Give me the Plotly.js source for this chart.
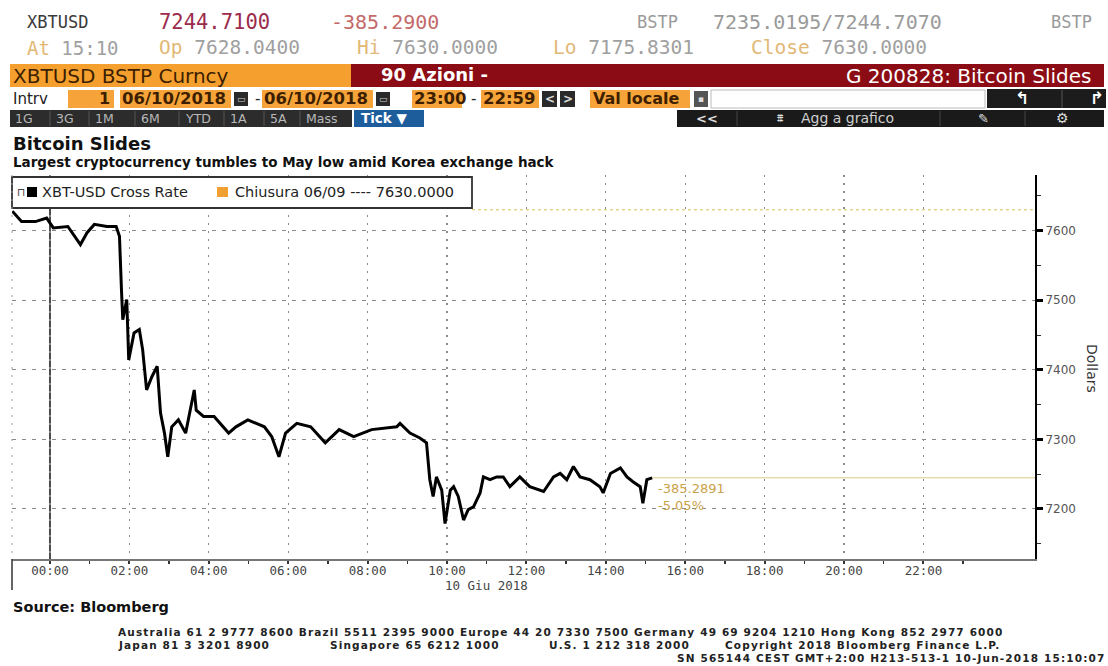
<!DOCTYPE html>
<html><head><meta charset="utf-8">
<script src="https://cdn.plot.ly/plotly-3.0.1.min.js"></script>
<style>html,body{margin:0;padding:0;background:#fff;}#chart{width:1108px;height:666px;}</style>
</head><body><div id="chart"></div>
<script>
// ---- data ----
const times = [
 '2018-06-09 23:03','2018-06-09 23:17','2018-06-09 23:38','2018-06-09 23:55',
 '2018-06-10 00:05','2018-06-10 00:27','2018-06-10 00:46','2018-06-10 00:56',
 '2018-06-10 01:07','2018-06-10 01:26','2018-06-10 01:40','2018-06-10 01:45',
 '2018-06-10 01:48','2018-06-10 01:50','2018-06-10 01:56','2018-06-10 01:59',
 '2018-06-10 02:07','2018-06-10 02:15','2018-06-10 02:20','2018-06-10 02:26',
 '2018-06-10 02:34','2018-06-10 02:42','2018-06-10 02:47','2018-06-10 02:53',
 '2018-06-10 02:58','2018-06-10 03:04','2018-06-10 03:14','2018-06-10 03:25',
 '2018-06-10 03:38','2018-06-10 03:41','2018-06-10 03:52','2018-06-10 04:08',
 '2018-06-10 04:30','2018-06-10 04:41','2018-06-10 04:59','2018-06-10 05:24',
 '2018-06-10 05:35','2018-06-10 05:46','2018-06-10 05:56','2018-06-10 06:13',
 '2018-06-10 06:34','2018-06-10 06:56','2018-06-10 07:17','2018-06-10 07:39',
 '2018-06-10 08:06','2018-06-10 08:44','2018-06-10 08:49','2018-06-10 09:04',
 '2018-06-10 09:19','2018-06-10 09:29','2018-06-10 09:34','2018-06-10 09:39',
 '2018-06-10 09:44','2018-06-10 09:52','2018-06-10 09:57','2018-06-10 10:05',
 '2018-06-10 10:10','2018-06-10 10:17','2018-06-10 10:25','2018-06-10 10:32',
 '2018-06-10 10:40','2018-06-10 10:50','2018-06-10 10:55','2018-06-10 11:05',
 '2018-06-10 11:15','2018-06-10 11:25','2018-06-10 11:35','2018-06-10 11:50',
 '2018-06-10 12:05','2018-06-10 12:26','2018-06-10 12:41','2018-06-10 12:51',
 '2018-06-10 13:01','2018-06-10 13:11','2018-06-10 13:21','2018-06-10 13:36',
 '2018-06-10 13:51','2018-06-10 13:56','2018-06-10 14:07','2018-06-10 14:22',
 '2018-06-10 14:32','2018-06-10 14:41','2018-06-10 14:52','2018-06-10 14:56',
 '2018-06-10 15:02','2018-06-10 15:10'
];
const prices = [
 7628,7613,7613,7618, 7604,7606,7580,7597, 7609,7606,7606,7592,
 7515,7472,7501,7414, 7453,7458,7429,7371, 7390,7405,7338,7309,
 7275,7318,7328,7309, 7371,7342,7333,7333, 7309,7318,7328,7318,
 7304,7275,7309,7323, 7318,7295,7314,7304, 7314,7318,7323,7309,
 7302,7295,7242,7218, 7246,7227,7179,7227, 7232,7218,7184,7199,
 7203,7223,7246,7242, 7246,7246,7232,7246, 7232,7225,7246,7251,
 7242,7261,7246,7242, 7232,7223,7251,7259, 7246,7239,7232,7208,
 7242,7244.71
];
const prevClose = 7630;
const lastPrice = 7244.71;
const xTickVals = ['2018-06-10 00:00','2018-06-10 02:00','2018-06-10 04:00','2018-06-10 06:00',
 '2018-06-10 08:00','2018-06-10 10:00','2018-06-10 12:00','2018-06-10 14:00',
 '2018-06-10 16:00','2018-06-10 18:00','2018-06-10 20:00','2018-06-10 22:00'];
const xTickText = ['00:00','02:00','04:00','06:00','08:00','10:00','12:00','14:00','16:00','18:00','20:00','22:00'];
const xMinorVals = ['2018-06-10 01:00','2018-06-10 03:00','2018-06-10 05:00','2018-06-10 07:00',
 '2018-06-10 09:00','2018-06-10 11:00','2018-06-10 13:00','2018-06-10 15:00',
 '2018-06-10 17:00','2018-06-10 19:00','2018-06-10 21:00','2018-06-10 23:00'];
const yTickVals = [7200,7300,7400,7500,7600];
const yTickText = ['7200','7300','7400','7500','7600'];
const xRange = ['2018-06-09 23:02:35','2018-06-11 00:48:36'];
const yRange = [7128,7680];
const dayStart = '2018-06-10 00:00';
const buttons = ['1G','3G','1M','6M','YTD','1A','5A','Mass'];

// ---- geometry helpers ----
const W=1108,H=666,L=12,R=73,T=175,B=107;
const PW=W-L-R, PH=H-T-B;
const fx=x=>(x-L)/PW, fy=y=>(H-B-y)/PH;
const shapes=[], ann=[];
const MONO='DejaVu Sans Mono', SANS='DejaVu Sans';
function box(x0,y0,x1,y1,fill,line,lw){
  shapes.push({type:'rect',xref:'paper',yref:'paper',x0:fx(x0),x1:fx(x1),y0:fy(y1),y1:fy(y0),
    fillcolor:fill,line:{color:line||fill,width:lw||0},layer:'above'});
}
function pline(x0,y0,x1,y1,color,w,dash){
  shapes.push({type:'line',xref:'paper',yref:'paper',x0:fx(x0),x1:fx(x1),y0:fy(y0),y1:fy(y1),
    line:{color:color,width:w,dash:dash||'solid'},layer:'above'});
}
function txt(x,y,t,size,color,o){
  o=o||{};
  ann.push({xref:'paper',yref:'paper',x:fx(x),y:fy(y),text:t,showarrow:false,
    xanchor:o.anchor||'left',yanchor:'middle',borderpad:0,
    font:{family:o.family||SANS,size:size,color:color,weight:o.weight||'normal'},textangle:o.angle||0});
}

// ---- header row 1 / 2 ----
txt(26,22,'XBTUSD',17,'#3a3a3a',{family:MONO});
txt(158,22,'7244.7100',20.5,'#9b2c4c',{family:MONO});
txt(330,22,'-385.2900',20,'#c46a6a',{family:MONO});
txt(636,22,'BSTP',17,'#9a9a9a',{family:MONO});
txt(712,22,'7235.0195/7244.7070',20,'#9a9a9a',{family:MONO});
txt(1050,22,'BSTP',17,'#9a9a9a',{family:MONO});
const lab=c=>'<span style="color:#e2b877">'+c+'</span>';
txt(26,48,lab('At')+' 15:10',19,'#a0a0a0',{family:MONO});
txt(158,48,lab('Op')+' 7628.0400',19.5,'#a0a0a0',{family:MONO});
txt(356,48,lab('Hi')+' 7630.0000',19.5,'#a0a0a0',{family:MONO});
txt(552,48,lab('Lo')+' 7175.8301',19.5,'#a0a0a0',{family:MONO});
txt(750,48,lab('Close')+' 7630.0000',19.5,'#a0a0a0',{family:MONO});

// ---- row 3 bars ----
box(10,64,351,87,'#f5a02e');
box(351,64,1104,87,'#8b0c14');
txt(12,76,'XBTUSD BSTP Curncy',20,'#3d1f00');
txt(380,75,'90 Azioni -',18,'#ffffff',{weight:'bold'});
txt(1092,76,'G 200828: Bitcoin Slides',20,'#ffffff',{anchor:'right'});

// ---- row 4 ----
const OR='#f6a43a', DK='#2a2a2a';
txt(12,99,'Intrv',15,'#222');
box(68,90,114,108,OR); txt(111,99,'1',16,'#3d1f00',{anchor:'right',weight:'bold'});
box(120,90,231,108,OR); txt(121,99,'06/10/2018',16.5,'#3d1f00',{weight:'bold'});
box(234,92,248,106,DK); txt(241,99,'▭',9,'#ccc',{anchor:'center'});
txt(254,99,'-',15,'#222');
box(262,90,373,108,OR); txt(263,99,'06/10/2018',16.5,'#3d1f00',{weight:'bold'});
box(376,92,390,106,DK); txt(383,99,'▭',9,'#ccc',{anchor:'center'});
box(412,90,462,108,OR); txt(413,99,'23:00',16.5,'#3d1f00',{weight:'bold'});
txt(470,99,'-',15,'#222');
box(481,90,539,108,OR); txt(482,99,'22:59',16.5,'#3d1f00',{weight:'bold'});
box(542,91,557,107,DK); txt(549.5,99,'<',12,'#ddd',{anchor:'center',weight:'bold'});
box(560,91,575,107,DK); txt(567.5,99,'>',12,'#ddd',{anchor:'center',weight:'bold'});
box(590,90,690,108,OR); txt(592,99,'Val locale',16,'#3d1f00',{weight:'bold'});
box(694,91,708,107,'#555'); txt(701,99,'▪',9,'#ddd',{anchor:'center'});
box(711,90,985,108,'#ffffff','#bbbbbb',1);
box(987,89,1106,108,'#1c1c1c');
pline(1062,90,1062,108,'#555',1);
txt(1022,98,'↰',17,'#ffffff',{anchor:'center',weight:'bold'});
txt(1097,98,'↱',17,'#ffffff',{anchor:'center',weight:'bold'});

// ---- row 5 ----
box(10,110,352,127,'#2c2c2c');
const bx=[14,55,94,140,184,229,269,305];
buttons.forEach((b,i)=>{ txt(bx[i],118.5,b,12.5,'#b8b8b8'); if(i>0) pline(bx[i]-5,111,bx[i]-5,126,'#555',1); });
box(354,110,424,127,'#1d5d9b'); txt(360,118.5,'Tick ▼',13.5,'#ffffff',{weight:'bold'});
box(677,110,1104,127,'#1a1a1a');
[737,940,1025].forEach(x=>pline(x,111,x,126,'#444',1));
txt(707,118.5,'<<',13,'#ddd',{anchor:'center',weight:'bold'});
txt(780,118.5,'⩩',12,'#ddd',{anchor:'center'});
txt(800,118.5,'Agg a grafico',14,'#cfcfcf');
txt(983,118.5,'✎',13,'#ddd',{anchor:'center'});
txt(1062,118.5,'⚙',14,'#ddd',{anchor:'center'});

// ---- titles ----
txt(12,143,'Bitcoin Slides',18,'#111',{weight:'bold'});
txt(12,162,'Largest cryptocurrency tumbles to May low amid Korea exchange hack',13.5,'#111',{weight:'bold'});

// ---- legend box ----
box(12,177,472,208,'#ffffff','#333333',1.8);
txt(16,192,'⊓',11,'#444');
box(27,187,37,197,'#000000');
txt(41,192,'XBT-USD Cross Rate',14.5,'#222');
box(217,187,228,197,'#f0a030');
txt(234,192,'Chiusura 06/09 ---- 7630.0000',14.5,'#222');

// ---- plot-area extras ----
shapes.unshift({type:'line',xref:'x',yref:'paper',x0:dayStart,x1:dayStart,y0:0,y1:1,line:{color:'#111',width:1.5},layer:'below'});
shapes.push({type:'line',xref:'paper',yref:'y',x0:fx(472),x1:1,y0:prevClose,y1:prevClose,line:{color:'#d6c35a',width:1,dash:'dot'},layer:'below'});
shapes.push({type:'line',xref:'x',yref:'y',x0:times[times.length-1],x1:xRange[1],y0:lastPrice,y1:lastPrice,line:{color:'#d9c98a',width:1},layer:'below'});
pline(12,175,12,559,'#999',1,'2px,6px');
pline(12,559,12,590,'#333',1.5);
txt(657,488,'-385.2891',13,'#c9a24a');
txt(657,505,'-5.05%',13,'#c9a24a');
txt(1092,368,'Dollars',14,'#333',{anchor:'center',angle:90});
txt(486,585,'10 Giu 2018',12.5,'#444',{anchor:'center',family:MONO});

// ---- footer ----
const FB={family:SANS,weight:'bold'};
const sp=t=>'<span style="letter-spacing:1.15px">'+t+'</span>';
txt(12,607,'Source: Bloomberg',14.5,'#111',{weight:'bold'});
txt(117,632,sp('Australia 61 2 9777 8600 Brazil 5511 2395 9000 Europe 44 20 7330 7500 Germany 49 69 9204 1210 Hong Kong 852 2977 6000'),10.5,'#222',FB);
txt(117,645,sp('Japan 81 3 3201 8900'),10.5,'#222',FB);
txt(329,645,sp('Singapore 65 6212 1000'),10.5,'#222',FB);
txt(548,645,sp('U.S. 1 212 318 2000'),10.5,'#222',FB);
txt(724,645,sp('Copyright 2018 Bloomberg Finance L.P.'),10.5,'#222',FB);
txt(1106,658,sp('SN 565144 CEST GMT+2:00 H213-513-1 10-Jun-2018 15:10:07'),10.5,'#222',Object.assign({anchor:'right'},FB));

const trace={type:'scatter',mode:'lines',x:times,y:prices,line:{color:'#000',width:3},hoverinfo:'skip',showlegend:false};
const layout={
  width:W,height:H,margin:{l:L,r:R,t:T,b:B,pad:0},
  paper_bgcolor:'#ffffff',plot_bgcolor:'#ffffff',showlegend:false,
  xaxis:{type:'date',range:xRange,tickmode:'array',tickvals:xTickVals,ticktext:xTickText,
    showgrid:true,gridcolor:'#8a8a8a',griddash:'2px,6px',gridwidth:1.2,zeroline:false,
    showline:true,linecolor:'#777',linewidth:2,ticks:'outside',ticklen:3,tickwidth:2,tickcolor:'#333',
    ticklabelstandoff:-4,
    tickfont:{family:MONO,size:12.5,color:'#444'},
    minor:{tickmode:'array',tickvals:xMinorVals,ticks:'outside',ticklen:3,tickwidth:1.5,tickcolor:'#333',showgrid:false}},
  yaxis:{side:'right',range:yRange,tickmode:'array',tickvals:yTickVals,ticktext:yTickText,
    showgrid:true,gridcolor:'#8a8a8a',griddash:'4px,6px',gridwidth:1,zeroline:false,
    showline:true,linecolor:'#000',linewidth:2,ticks:'outside',ticklen:6,tickwidth:3,tickcolor:'#000',
    tickfont:{family:SANS,size:12,color:'#555'},
    minor:{dtick:50,ticks:'outside',ticklen:4,tickwidth:1,tickcolor:'#333',showgrid:false}},
  shapes:shapes,annotations:ann
};
Plotly.newPlot('chart',[trace],layout,{displayModeBar:false,staticPlot:true});
</script></body></html>
